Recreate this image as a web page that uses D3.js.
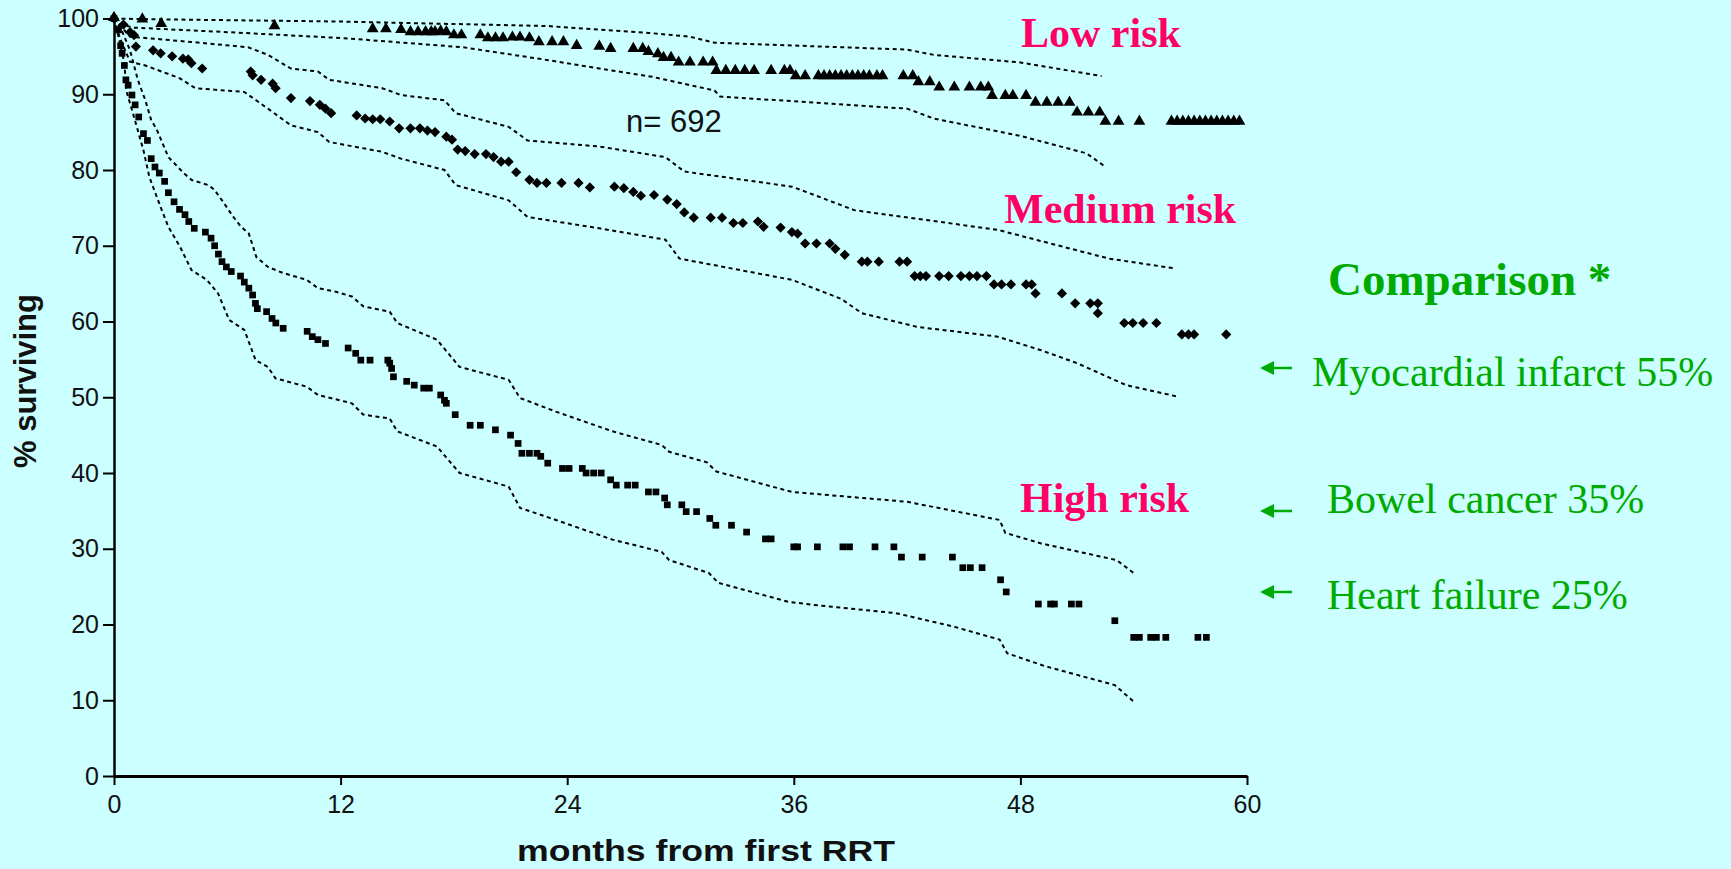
<!DOCTYPE html>
<html>
<head>
<meta charset="utf-8">
<script src="https://cdn.jsdelivr.net/npm/d3@7"></script>
<style>
  html, body { margin: 0; padding: 0; background: #ccffff; }
  svg { display: block; }
</style>
</head>
<body>
<div id="chart"></div>
<script>
// survival points, [months, % surviving]
const lowRisk = [[0,100],[1.5,99.8],[2.5,99.2],[8.5,98.9],[13.7,98.5],[14.4,98.5],[15.2,98.4],[15.7,98.1],[16.1,98.1],[16.5,98.1],[16.8,98.1],[17.0,98.1],[17.3,98.2],[17.6,98.1],
  [18.0,97.7],[18.4,97.7],[19.4,97.7],[19.8,97.3],[20.2,97.3],[20.6,97.3],[21.1,97.4],[21.5,97.4],[22.0,97.3],[22.5,96.8],[23.2,96.8],[23.8,96.8],[24.5,96.3],[25.7,96.2],
  [26.3,95.9],[27.5,95.9],[28.0,95.9],[28.3,95.5],[28.8,95.2],[29.1,94.7],[29.5,94.7],[29.9,94.1],[30.5,94.1],[31.2,94.1],[31.7,94.1],[31.9,93.0],[32.4,93.0],[32.9,93.0],
  [33.4,93.0],[33.9,93.0],[34.8,93.0],[35.5,93.0],[35.8,93.0],[36.1,92.3],[36.6,92.3],[37.3,92.3],[37.6,92.3],[37.9,92.3],[38.2,92.3],[38.5,92.3],[38.8,92.3],[39.1,92.3],
  [39.4,92.3],[39.7,92.3],[40.0,92.3],[40.4,92.3],[40.7,92.3],[41.8,92.3],[42.3,92.3],[42.6,91.5],[43.2,91.5],[43.7,90.8],[44.5,90.8],[45.3,90.8],[45.9,90.8],[46.3,90.8],
  [46.5,89.7],[47.2,89.7],[47.6,89.7],[48.3,89.7],[48.8,88.8],[49.4,88.8],[50.0,88.8],[50.6,88.8],[51.0,87.5],[51.6,87.5],[52.2,87.5],[52.5,86.3],[53.2,86.3],[54.3,86.3],
  [56.0,86.3],[56.3,86.3],[56.6,86.3],[56.9,86.3],[57.2,86.3],[57.5,86.3],[57.8,86.3],[58.1,86.3],[58.4,86.3],[58.7,86.3],[59.0,86.3],[59.3,86.3],[59.6,86.3]];

const mediumRisk = [[0,100],[0.5,99.2],[0.85,98.2],[1.06,97.8],[1.16,96.3],[2.07,95.8],[2.47,95.4],[3.08,95.0],[3.65,94.7],[3.93,94.6],[4.1,94.1],[4.67,93.4],[7.24,93.0],
  [7.34,92.5],[7.79,91.9],[8.4,91.4],[8.56,90.8],[9.37,89.5],[10.38,89.1],[10.9,88.6],[11.2,88.1],[11.5,87.5],[12.85,87.2],[13.3,86.8],[13.7,86.7],[14.1,86.7],[14.6,86.4],
  [15.1,85.5],[15.7,85.5],[16.2,85.5],[16.6,85.2],[17.0,85.0],[17.6,84.4],[17.9,84.0],[18.2,82.7],[18.6,82.5],[19.1,82.1],[19.7,82.1],[20.1,81.7],[20.5,81.1],[20.9,81.1],
  [21.3,79.7],[22.0,78.7],[22.4,78.3],[22.9,78.3],[23.7,78.3],[24.6,78.3],[25.2,77.7],[26.5,77.8],[27.0,77.6],[27.5,77.1],[27.9,76.6],[28.6,76.7],[29.3,76.1],[29.8,75.5],
  [30.2,74.4],[30.7,73.7],[31.6,73.7],[32.2,73.7],[32.8,73.0],[33.3,73.0],[34.1,73.2],[34.4,72.5],[35.3,72.4],[35.9,71.8],[36.2,71.6],[36.6,70.3],[37.2,70.3],[37.9,70.3],
  [38.2,69.6],[38.7,68.8],[39.6,67.9],[39.9,67.9],[40.5,67.9],[41.6,67.9],[42.0,67.9],[42.4,66.0],[42.7,66.0],[43.0,66.0],[43.7,66.0],[44.2,66.0],[44.85,66.0],[45.3,66.0],
  [45.7,66.0],[46.2,66.0],[46.6,64.9],[47.0,64.9],[47.5,64.9],[48.3,64.9],[48.6,64.9],[48.8,63.7],[50.2,63.7],[50.9,62.4],[51.7,62.4],[52.1,62.4],[52.1,61.1],[53.5,59.8],
  [53.95,59.8],[54.5,59.8],[55.2,59.8],[56.55,58.3],[56.9,58.3],[57.2,58.3],[58.9,58.3]];

const highRisk = [[0,100],[0.24,98.5],[0.35,96.4],[0.43,95.4],[0.55,93.8],[0.63,91.9],[0.75,91.2],[0.95,89.9],[1.12,88.6],[1.31,87.0],[1.56,84.8],[1.77,83.9],[1.97,81.5],
  [2.17,80.4],[2.4,79.6],[2.68,78.5],[2.88,77.0],[3.18,75.8],[3.47,74.8],[3.76,74.1],[3.96,73.2],[4.25,72.3],[4.84,71.8],[5.14,71.0],[5.33,70.0],[5.53,68.9],[5.72,67.9],
  [5.95,67.2],[6.21,66.6],[6.7,66.0],[6.9,65.2],[7.14,64.4],[7.34,63.5],[7.49,62.4],[7.59,61.7],[8.08,61.3],[8.37,60.4],[8.57,59.8],[8.96,59.1],[10.23,58.7],[10.5,58.0],
  [10.8,57.6],[11.2,57.1],[12.4,56.5],[12.8,55.8],[13.07,54.9],[13.56,54.9],[14.5,54.9],[14.6,54.5],[14.7,53.8],[14.8,52.7],[15.5,52.1],[15.9,51.6],[16.4,51.2],[16.7,51.2],
  [17.3,50.3],[17.5,49.6],[17.6,49.2],[18.07,47.7],[18.86,46.3],[19.4,46.3],[20.2,45.7],[21.0,45.0],[21.4,43.9],[21.6,42.6],[22.0,42.6],[22.4,42.6],[22.6,42.2],[22.97,41.3],
  [23.75,40.6],[24.1,40.6],[24.8,40.6],[25.0,40.0],[25.4,40.0],[25.8,40.0],[26.3,39.1],[26.6,38.4],[27.2,38.4],[27.6,38.4],[28.3,37.5],[28.7,37.5],[29.16,36.7],[29.3,35.8],
  [30.07,35.8],[30.3,34.9],[30.85,34.9],[31.55,34.0],[31.87,33.1],[32.7,33.1],[33.5,32.2],[34.5,31.3],[34.8,31.3],[36.0,30.25],[36.2,30.25],[37.25,30.25],[38.6,30.25],
  [38.95,30.25],[40.3,30.25],[41.3,30.25],[41.7,28.9],[42.8,28.9],[44.4,28.9],[44.95,27.5],[45.35,27.5],[45.97,27.5],[46.95,25.9],[47.25,24.3],[48.95,22.7],[49.6,22.7],
  [49.8,22.7],[50.7,22.7],[51.1,22.7],[53.0,20.5],[54.0,18.3],[54.3,18.3],[54.9,18.3],[55.2,18.3],[55.7,18.3],[57.4,18.3],[57.85,18.3]];

// 95% confidence bands
const lowUpper = [[0,100],[2,99.9],[12,99.6],[23,99.0],[28.3,98.1],[30.5,97.6],[31.8,96.8],[42,95.9],[43.4,95.2],[48,94.2],[52.3,92.4]];
const lowLower = [[0,100],[0.3,99.3],[1,98.8],[6,98.2],[12.2,97.4],[18.5,96.2],[23,94.5],[25.7,93.4],[28.5,92.3],[31.8,90.5],[32.1,89.7],[42,88.1],[43.4,86.8],[48,84.5],[51.5,82.2],[52.4,80.6]];
const mediumUpper = [[0,100],[0.85,97.6],[4.1,96.9],[7.1,96.2],[8.15,95.2],[9.37,93.4],[10.8,93.0],[11.4,91.9],[14.2,90.8],[15.2,89.9],[17.5,89.2],[18.1,87.5],[20.9,85.7],
  [21.9,83.9],[25.7,83.1],[29.2,81.7],[30.2,79.8],[35.9,77.8],[37.3,76.5],[39.2,74.7],[46.8,72.1],[52.7,68.3],[56.2,67.0]];
const mediumLower = [[0,100],[0.3,97.5],[0.85,94.3],[1.66,93.8],[3.49,92.1],[4.3,90.8],[6.9,90.3],[8.15,88.1],[9.37,85.9],[10.8,85.0],[11.4,83.7],[14.2,82.4],[15.2,81.5],
  [17.5,80.0],[18.1,78.0],[20.9,76.0],[21.9,73.8],[25.7,72.3],[29.2,70.8],[29.95,68.3],[35.9,65.5],[38.5,63.0],[39.6,61.1],[42.5,59.3],[46.8,58.0],[49.1,56.2],[51.0,54.5],
  [53.6,51.6],[56.3,50.1]];
const highUpper = [[0,100],[0.4,98.5],[0.85,95.8],[1.26,91.9],[1.66,89.2],[1.97,86.6],[2.27,85.3],[2.88,81.7],[3.69,79.6],[4.1,78.7],[5.0,78.0],[5.31,77.4],[5.72,76.0],
  [6.32,73.8],[6.73,72.5],[7.14,71.6],[7.54,68.5],[8.15,67.2],[8.96,66.4],[10.2,65.5],[10.8,64.4],[11.8,63.9],[12.6,63.3],[13.2,62.0],[14.6,61.3],[15.0,59.8],[17.1,57.6],
  [18.3,54.0],[20.9,52.3],[21.5,49.9],[23.4,48.1],[26.4,45.5],[29.0,43.7],[29.4,42.8],[31.4,41.4],[31.9,40.2],[35.9,37.5],[42.0,36.2],[46.9,33.8],[47.2,32.1],[49.1,30.7],
  [53.1,28.5],[54.1,26.6]];
const highLower = [[0,100],[0.25,97.5],[0.55,94.1],[0.65,90.5],[1.06,87.0],[1.56,82.6],[1.87,79.1],[2.47,75.1],[2.88,72.5],[3.49,69.9],[4.1,66.8],[4.91,65.5],[5.51,63.7],
  [6.1,60.2],[6.9,58.9],[7.5,54.9],[8.15,54.0],[8.55,52.5],[10.2,51.4],[10.8,50.3],[12.6,49.2],[13.2,47.7],[14.6,47.2],[15.0,45.5],[17.1,43.5],[18.3,40.0],[20.9,38.2],
  [21.5,35.4],[23.4,33.8],[26.4,31.2],[29.0,29.6],[29.4,28.5],[31.5,26.8],[32.0,25.5],[35.7,23.0],[37.0,22.6],[41.4,21.5],[44.5,19.7],[46.9,18.0],[47.3,16.2],[49.3,14.5],
  [53.0,12.0],[54.1,9.6]];

const xTicks = [0, 12, 24, 36, 48, 60];
const yTicks = [0, 10, 20, 30, 40, 50, 60, 70, 80, 90, 100];

const groupLabels = ['Low risk', 'Medium risk', 'High risk'];
const comparisonItems = ['Myocardial infarct 55%', 'Bowel cancer 35%', 'Heart failure 25%'];
const comparisonValues = [55, 35, 25];

const W = 1731, H = 869;
const pink = '#ff0066', green = '#00aa00';

const svg = d3.select('#chart').append('svg')
  .attr('width', W)
  .attr('height', H);

svg.append('rect').attr('width', W).attr('height', H).attr('fill', '#ccffff');

const x = d3.scaleLinear().domain([0, 60]).range([114, 1247]);
const y = d3.scaleLinear().domain([0, 100]).range([776, 18.5]);

// confidence bands, dotted
const line = d3.line().x(d => x(d[0])).y(d => y(d[1]));
[lowUpper, lowLower, mediumUpper, mediumLower, highUpper, highLower].forEach(band => {
  svg.append('path')
    .attr('d', line(band))
    .attr('fill', 'none')
    .attr('stroke', '#000')
    .attr('stroke-width', 2)
    .attr('stroke-dasharray', '4,3.5');
});

// markers
svg.append('g').selectAll('path')
  .data(lowRisk).enter().append('path')
  .attr('d', d3.symbol().type(d3.symbolTriangle).size(60))
  .attr('transform', d => `translate(${x(d[0])},${y(d[1]) - 1})`)
  .attr('fill', '#000');

svg.append('g').selectAll('path')
  .data(mediumRisk).enter().append('path')
  .attr('d', d3.symbol().type(d3.symbolSquare).size(52))
  .attr('transform', d => `translate(${x(d[0])},${y(d[1])}) rotate(45)`)
  .attr('fill', '#000');

svg.append('g').selectAll('path')
  .data(highRisk).enter().append('path')
  .attr('d', d3.symbol().type(d3.symbolSquare).size(45))
  .attr('transform', d => `translate(${x(d[0])},${y(d[1])})`)
  .attr('fill', '#000');

// axes
const yAxis = svg.append('g')
  .attr('transform', `translate(${x(0)},0)`)
  .call(d3.axisLeft(y).tickValues(yTicks).tickSize(11).tickSizeOuter(0).tickPadding(4));
yAxis.select('.domain').attr('stroke-width', 2.5);
yAxis.selectAll('.tick line').attr('stroke-width', 2);
yAxis.selectAll('text')
  .attr('font-family', 'Liberation Sans, Arial, sans-serif')
  .attr('font-size', 25)
  .attr('fill', '#111');

const xAxis = svg.append('g')
  .attr('transform', `translate(0,${y(0)})`)
  .call(d3.axisBottom(x).tickValues(xTicks).tickSize(9).tickSizeOuter(0).tickPadding(10));
xAxis.select('.domain').attr('stroke-width', 3);
xAxis.selectAll('.tick line').attr('stroke-width', 2);
xAxis.selectAll('text')
  .attr('font-family', 'Liberation Sans, Arial, sans-serif')
  .attr('font-size', 25)
  .attr('fill', '#111');

svg.append('text')
  .attr('x', 517)
  .attr('y', 861)
  .attr('textLength', 378)
  .attr('lengthAdjust', 'spacingAndGlyphs')
  .attr('font-family', 'Liberation Sans, Arial, sans-serif')
  .attr('font-weight', 'bold')
  .attr('font-size', 30)
  .attr('fill', '#111')
  .text('months from first RRT');

svg.append('text')
  .attr('transform', 'translate(36,381) rotate(-90)')
  .attr('text-anchor', 'middle')
  .attr('font-family', 'Liberation Sans, Arial, sans-serif')
  .attr('font-weight', 'bold')
  .attr('font-size', 31)
  .attr('fill', '#111')
  .text('% surviving');

svg.append('text')
  .attr('x', 626)
  .attr('y', 132)
  .attr('font-family', 'Liberation Sans, Arial, sans-serif')
  .attr('font-size', 31)
  .attr('fill', '#111')
  .text('n= 692');

// group labels
const labelPos = [[1021, 47], [1004, 223], [1020, 512]];
groupLabels.forEach((t, i) => {
  svg.append('text')
    .attr('x', labelPos[i][0])
    .attr('y', labelPos[i][1])
    .attr('font-family', 'Liberation Serif, Times New Roman, serif')
    .attr('font-weight', 'bold')
    .attr('font-size', 42)
    .attr('fill', pink)
    .text(t);
});

// comparison block
svg.append('text')
  .attr('x', 1328)
  .attr('y', 295)
  .attr('font-family', 'Liberation Serif, Times New Roman, serif')
  .attr('font-weight', 'bold')
  .attr('font-size', 47)
  .attr('fill', green)
  .text('Comparison *');

const itemPos = [[1312, 386, 368], [1327, 513, 511], [1327, 609, 592]];
comparisonItems.forEach((t, i) => {
  svg.append('text')
    .attr('x', itemPos[i][0])
    .attr('y', itemPos[i][1])
    .attr('font-family', 'Liberation Serif, Times New Roman, serif')
    .attr('font-size', 42)
    .attr('fill', green)
    .attr('data-value', comparisonValues[i])
    .text(t);
  const ay = itemPos[i][2];
  svg.append('line')
    .attr('x1', 1270).attr('x2', 1292)
    .attr('y1', ay).attr('y2', ay)
    .attr('stroke', green)
    .attr('stroke-width', 2.5);
  svg.append('path')
    .attr('d', `M1260,${ay} L1274,${ay - 7} L1274,${ay + 7} Z`)
    .attr('fill', green);
});
</script>
</body>
</html>
